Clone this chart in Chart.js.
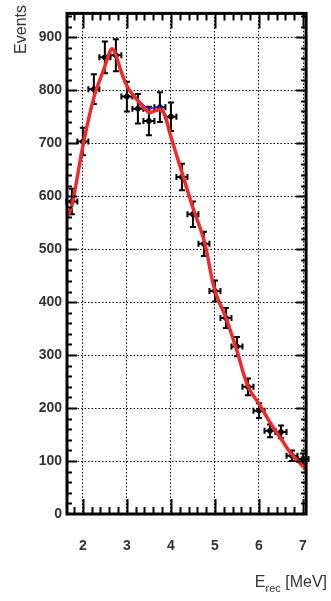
<!DOCTYPE html>
<html>
<head>
<meta charset="UTF-8">
<title>Events vs E_rec</title>
<script src="https://cdn.jsdelivr.net/npm/chart.js"></script>
<style>
  body { margin: 0; background: #fff; }
  #wrap { width: 331px; height: 601px; }
</style>
</head>
<body>
<div id="wrap"><canvas id="chart"></canvas></div>
<script>
// measured points (bin centres, MeV) with errors
const binE    = [1.75, 2.0, 2.25, 2.5, 2.75, 3.0, 3.25, 3.5, 3.75, 4.0, 4.25, 4.5, 4.75, 5.0, 5.25, 5.5, 5.75, 6.0, 6.25, 6.5, 6.75, 7.0];
const events  = [590, 703, 802, 862, 866, 788, 765, 742, 768, 750, 636, 566, 510, 421, 370, 316, 240, 195, 157, 155, 110, 104];
const errY    = [24, 26, 28, 30, 30, 28, 28, 27, 28, 27, 25, 24, 23, 20, 19, 18, 16, 14, 12, 12, 10, 10];
const binHalf = 0.125;

// fit curves
const fitE    = [1.64, 1.75, 2.0, 2.25, 2.5, 2.6, 2.65, 2.7, 2.75, 3.0, 3.25, 3.5, 3.6, 3.75, 3.85, 4.0, 4.25, 4.5, 4.75, 5.0, 5.25, 5.5, 5.75, 6.0, 6.25, 6.5, 6.75, 7.0, 7.08];
const fitRed  = [560, 582, 694, 786, 845, 870, 878, 876, 866, 808, 780, 758, 760, 763, 755, 712, 645, 578, 517, 422, 370, 308, 241, 208, 173, 142, 112, 90, 81];
const fitBlue = [560, 582, 694, 786, 845, 870, 877, 875, 866, 810, 783, 764, 767, 768, 759, 714, 645, 578, 517, 422, 373, 309, 241, 208, 173, 142, 112, 90, 81];

const xTicks = [2, 3, 4, 5, 6, 7];
const yTicks = [0, 100, 200, 300, 400, 500, 600, 700, 800, 900];

const pts = (xs, ys) => xs.map((x, i) => ({ x: x, y: ys[i] }));

const errorBars = {
  id: 'errorBars',
  beforeDatasetsDraw(chart) {
    const { ctx, scales: { x, y } } = chart;
    ctx.save();
    ctx.strokeStyle = '#000';
    ctx.lineWidth = 2;
    const cap = 3;
    binE.forEach((e, i) => {
      const px = x.getPixelForValue(e);
      const py = y.getPixelForValue(events[i]);
      const x0 = x.getPixelForValue(e - binHalf), x1 = x.getPixelForValue(e + binHalf);
      const y0 = y.getPixelForValue(events[i] + errY[i]), y1 = y.getPixelForValue(events[i] - errY[i]);
      ctx.beginPath();
      ctx.moveTo(x0, py); ctx.lineTo(x1, py);
      ctx.moveTo(px, y0); ctx.lineTo(px, y1);
      ctx.moveTo(x0, py - cap); ctx.lineTo(x0, py + cap);
      ctx.moveTo(x1, py - cap); ctx.lineTo(x1, py + cap);
      ctx.moveTo(px - cap, y0); ctx.lineTo(px + cap, y0);
      ctx.moveTo(px - cap, y1); ctx.lineTo(px + cap, y1);
      ctx.stroke();
    });
    ctx.restore();
  }
};

// ROOT-like frame with inward ticks and the axis titles
const frame = {
  id: 'frame',
  afterDraw(chart) {
    const { ctx, chartArea: a, scales: { x, y } } = chart;
    ctx.save();
    ctx.strokeStyle = '#000';
    ctx.lineWidth = 2;
    ctx.beginPath();
    for (let v = 1.8; v < x.max; v += 0.2) {
      const p = Math.round(x.getPixelForValue(v)) + 0.5;
      const major = Math.abs(v - Math.round(v)) < 0.01;
      const len = major ? 15 : 7;
      ctx.moveTo(p, a.bottom); ctx.lineTo(p, a.bottom - len);
      ctx.moveTo(p, a.top); ctx.lineTo(p, a.top + len);
    }
    for (let v = 20; v < y.max; v += 20) {
      const p = Math.round(y.getPixelForValue(v)) + 0.5;
      const len = v % 100 === 0 ? 10 : 5;
      ctx.moveTo(a.left, p); ctx.lineTo(a.left + len, p);
      ctx.moveTo(a.right, p); ctx.lineTo(a.right - len, p);
    }
    ctx.stroke();
    ctx.lineWidth = 3;
    ctx.strokeRect(a.left, a.top, a.right - a.left, a.bottom - a.top);

    ctx.fillStyle = '#333';
    ctx.font = '16px "Liberation Sans", Arial, sans-serif';
    ctx.save();
    ctx.translate(22, 5);
    ctx.rotate(-Math.PI / 2);
    ctx.textAlign = 'right';
    ctx.textBaseline = 'middle';
    ctx.fillText('Events', 0, 0);
    ctx.restore();

    const big = '16px "Liberation Sans", Arial, sans-serif';
    const small = '11px "Liberation Sans", Arial, sans-serif';
    ctx.textAlign = 'left';
    ctx.textBaseline = 'alphabetic';
    ctx.font = big;
    const wE = ctx.measureText('E').width;
    const wU = ctx.measureText(' [MeV]').width;
    ctx.font = small;
    const wR = ctx.measureText('rec').width;
    let sx = 327 - (wE + wR + wU);
    ctx.font = big;
    ctx.fillText('E', sx, 587);
    ctx.font = small;
    ctx.fillText('rec', sx + wE, 592);
    ctx.font = big;
    ctx.fillText(' [MeV]', sx + wE + wR, 587);
    ctx.restore();
  }
};

new Chart(document.getElementById('chart'), {
  data: {
    datasets: [
      {
        type: 'scatter',
        data: pts(binE, events),
        backgroundColor: '#000',
        borderColor: '#000',
        pointRadius: 2.5,
        order: 4
      },
      {
        type: 'line',
        data: pts(fitE, fitBlue),
        borderColor: '#2b2bd8',
        borderWidth: 1.5,
        pointRadius: 0,
        tension: 0.4,
        order: 2
      },
      {
        type: 'line',
        data: pts(fitE, fitRed),
        borderColor: '#f02a2a',
        borderWidth: 3.5,
        pointRadius: 0,
        tension: 0.4,
        order: 1
      }
    ]
  },
  options: {
    responsive: true,
    maintainAspectRatio: false,
    animation: false,
    layout: { padding: { top: 3, right: 7, left: 0, bottom: 0 } },
    plugins: { legend: { display: false }, tooltip: { enabled: false } },
    scales: {
      x: {
        type: 'linear',
        min: 1.64,
        max: 7.07,
        afterBuildTicks: s => { s.ticks = xTicks.map(v => ({ value: v })); },
        afterFit: s => { s.height = 87; },
        grid: { color: '#000', lineWidth: 1, drawTicks: false },
        border: { display: false, dash: [1.5, 2] },
        ticks: {
          padding: 24,
          color: '#333',
          font: { family: '"Liberation Sans", Arial, sans-serif', size: 14, weight: 'bold' }
        }
      },
      y: {
        type: 'linear',
        min: 0,
        max: 945,
        afterBuildTicks: s => { s.ticks = yTicks.map(v => ({ value: v })); },
        afterFit: s => { s.width = 67; },
        grid: { color: '#000', lineWidth: 1, drawTicks: false },
        border: { display: false, dash: [1.5, 2] },
        ticks: {
          padding: 5,
          color: '#333',
          font: { family: '"Liberation Sans", Arial, sans-serif', size: 14, weight: 'bold' }
        }
      }
    }
  },
  plugins: [errorBars, frame]
});
</script>
</body>
</html>
